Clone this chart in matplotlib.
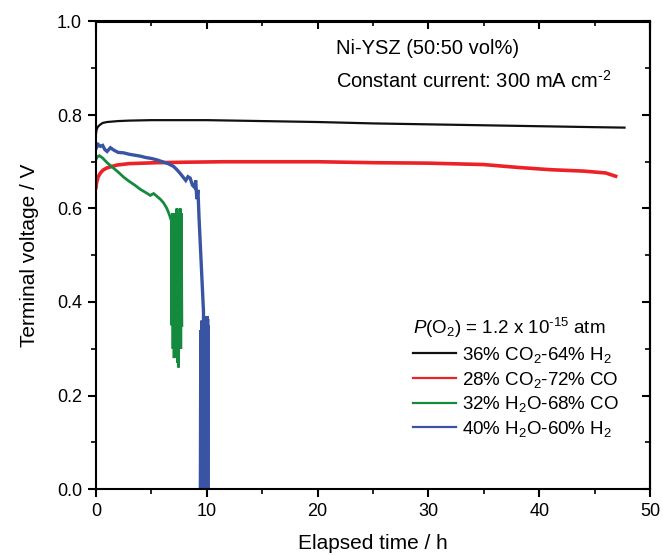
import matplotlib
matplotlib.use("Agg")
import matplotlib.pyplot as plt
from matplotlib.ticker import MultipleLocator

# ---------------------------
# Data
# ---------------------------
t_co2_h2 = [0, 0.05, 0.15, 0.3, 0.6, 1.0, 1.5, 2, 3, 5, 8, 10, 15, 20, 25, 30, 35, 40, 45, 47.7]
v_co2_h2 = [0.760, 0.768, 0.774, 0.778, 0.783, 0.785, 0.786, 0.787, 0.788, 0.789, 0.789, 0.789,
            0.787, 0.785, 0.782, 0.780, 0.778, 0.776, 0.774, 0.773]

t_co2_co = [0, 0.05, 0.2, 0.4, 0.63, 1.0, 1.9, 3, 5.5, 8, 11.5, 15, 20, 25, 30, 35, 38, 41, 44, 46, 46.9]
v_co2_co = [0.645, 0.655, 0.668, 0.676, 0.682, 0.687, 0.693, 0.696, 0.698, 0.699, 0.700, 0.700,
            0.700, 0.698, 0.697, 0.694, 0.688, 0.683, 0.680, 0.676, 0.669]

t_h2o_co = [0, 0.1, 0.3, 0.6, 1.0, 1.5, 2.0, 2.5, 3.0, 3.5, 4.0, 4.5, 4.9, 5.2, 5.5, 5.8, 6.1, 6.4,
            6.6, 6.75, 6.8, 6.85, 6.9, 6.95, 7.0, 7.05, 7.1, 7.15, 7.2, 7.25, 7.3, 7.35, 7.4, 7.45,
            7.5, 7.55, 7.6, 7.65, 7.7, 7.75]
v_h2o_co = [0.705, 0.710, 0.713, 0.708, 0.698, 0.688, 0.678, 0.667, 0.658, 0.650, 0.641, 0.634,
            0.628, 0.632, 0.626, 0.620, 0.612, 0.600, 0.588, 0.578, 0.580, 0.35, 0.59, 0.30, 0.57,
            0.28, 0.59, 0.33, 0.58, 0.29, 0.60, 0.27, 0.56, 0.26, 0.59, 0.31, 0.60, 0.30, 0.59, 0.35]

t_h2o_h2 = [0, 0.2, 0.4, 0.6, 0.8, 1.0, 1.3, 1.6, 2.0, 2.5, 3.0, 3.5, 4.0, 4.5, 5.0, 5.5, 6.0, 6.5,
            7.0, 7.3, 7.6, 7.9, 8.1, 8.3, 8.5, 8.7, 8.9, 9.0, 9.1, 9.2, 9.3, 9.4, 9.5, 9.6, 9.7,
            9.75, 9.8, 9.84, 9.88, 9.92, 9.96, 10.0, 10.04, 10.08, 10.12, 9.42, 9.46, 9.5, 9.54,
            9.58, 9.62, 9.66, 9.7, 9.74, 9.78, 9.82, 9.86, 9.9, 9.94, 9.98, 10.02, 10.06, 10.1]
v_h2o_h2 = [0.728, 0.737, 0.733, 0.735, 0.726, 0.722, 0.730, 0.725, 0.720, 0.719, 0.716, 0.714,
            0.712, 0.709, 0.707, 0.704, 0.700, 0.696, 0.690, 0.683, 0.675, 0.666, 0.660, 0.668,
            0.665, 0.650, 0.645, 0.660, 0.620, 0.640, 0.580, 0.530, 0.480, 0.430, 0.380,
            0.0, 0.36, 0.0, 0.37, 0.0, 0.36, 0.0, 0.37, 0.0, 0.35, 0.0, 0.34, 0.0, 0.36,
            0.0, 0.35, 0.0, 0.36, 0.0, 0.37, 0.0, 0.36, 0.0, 0.35, 0.0, 0.37, 0.0, 0.36]

labels = [r"36% CO$_2$-64% H$_2$", r"28% CO$_2$-72% CO",
          r"32% H$_2$O-68% CO", r"40% H$_2$O-60% H$_2$"]
colors = ["#111111", "#ec2227", "#138a3e", "#3a54a4"]
widths = [1.6, 2.6, 2.0, 2.4]

# ---------------------------
# Style
# ---------------------------
plt.rcParams['font.family'] = ['Liberation Sans', 'DejaVu Sans']
plt.rcParams['mathtext.fontset'] = 'custom'
plt.rcParams['mathtext.rm'] = 'Liberation Sans'
plt.rcParams['mathtext.it'] = 'Liberation Sans:italic'
plt.rcParams['axes.linewidth'] = 1.5

fig = plt.figure(figsize=(6.63, 5.55), dpi=100)
ax = fig.add_axes([96 / 663, 1 - 489 / 555, 554 / 663, 467.5 / 555])

series = [(t_co2_h2, v_co2_h2), (t_co2_co, v_co2_co), (t_h2o_co, v_h2o_co), (t_h2o_h2, v_h2o_h2)]
for (t, v), lab, c, w in zip(series, labels, colors, widths):
    ax.plot(t, v, color=c, lw=w, label=lab, solid_joinstyle='miter')

ax.set_xlim(0, 50)
ax.set_ylim(0, 1.0)
ax.xaxis.set_major_locator(MultipleLocator(10))
ax.xaxis.set_minor_locator(MultipleLocator(5))
ax.yaxis.set_major_locator(MultipleLocator(0.2))
ax.yaxis.set_minor_locator(MultipleLocator(0.1))
ax.tick_params(which='major', direction='out', length=6, width=1.5, labelsize=13, pad=4)
ax.tick_params(which='minor', direction='out', length=3.5, width=1.2)

# inward ticks on top and right spines
secx = ax.secondary_xaxis('top')
secx.xaxis.set_major_locator(MultipleLocator(10))
secx.xaxis.set_minor_locator(MultipleLocator(5))
secx.tick_params(which='major', direction='in', length=6, width=1.5, labeltop=False)
secx.tick_params(which='minor', direction='in', length=3.5, width=1.2)
secy = ax.secondary_yaxis('right')
secy.yaxis.set_major_locator(MultipleLocator(0.2))
secy.yaxis.set_minor_locator(MultipleLocator(0.1))
secy.tick_params(which='major', direction='in', length=6, width=1.5, labelright=False)
secy.tick_params(which='minor', direction='in', length=3.5, width=1.2)

ax.set_xlabel('Elapsed time / h', fontsize=15, labelpad=10)
ax.set_ylabel('Terminal voltage / V', fontsize=15, labelpad=13)

ax.text(0.433, 0.942, 'Ni-YSZ (50:50 vol%)', transform=ax.transAxes, fontsize=14.5, va='center')
ax.text(0.433, 0.874, r'Constant current: 300 mA cm$^{\text{-2}}$', transform=ax.transAxes,
        fontsize=14.5, va='center')

leg = ax.legend(loc='upper left', bbox_to_anchor=(0.555, 0.39), frameon=False, fontsize=13.5,
                title=r"$\it{P}$(O$_2$) = 1.2 x 10$^{\text{-15}}$ atm", title_fontsize=13.5,
                handlelength=2.3, handletextpad=0.3, labelspacing=0.25, borderpad=0,
                alignment='left')
for line in leg.get_lines():
    line.set_linewidth(1.6)

fig.savefig('out.png', dpi=100)
